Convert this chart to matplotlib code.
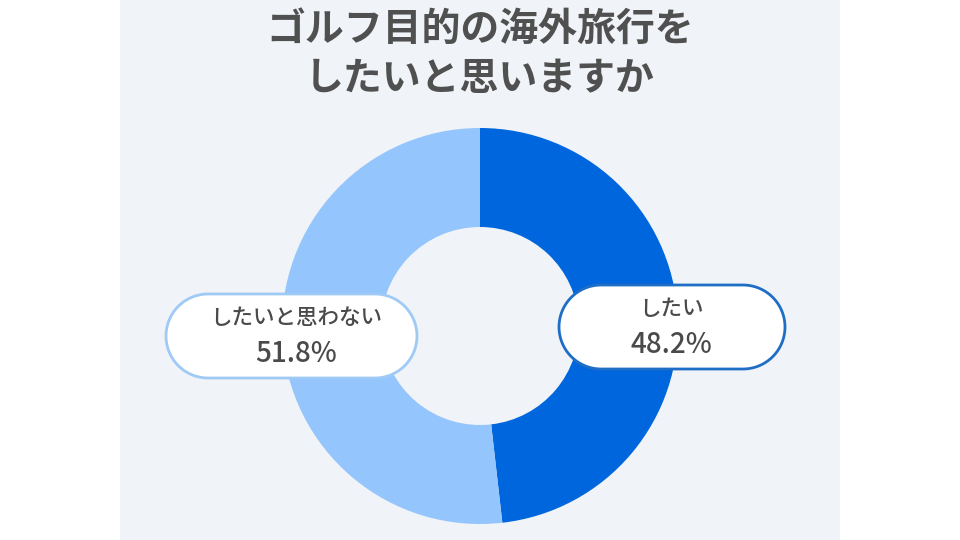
import matplotlib
matplotlib.use('Agg')
import numpy as np
import matplotlib.pyplot as plt
from matplotlib.patches import Rectangle, Polygon

plt.rcParams['font.family'] = ['Noto Sans CJK JP', 'DejaVu Sans']

title = 'ゴルフ目的の海外旅行を\nしたいと思いますか'
labels = ['したい', 'したいと思わない']
values = [48.2, 51.8]
colors = ['#0066DD', '#94C5FC']
edge_colors = ['#1F6EC6', '#9FCAF6']

text_color = '#4A4A4A'


def pill(x, y, w, h):
    # rounded "pill" outline with semicircle ends
    r = h / 2
    t = np.linspace(-np.pi / 2, np.pi / 2, 40)
    right = np.column_stack([x + w - r + r * np.cos(t), y + r + r * np.sin(t)])
    t2 = np.linspace(np.pi / 2, 3 * np.pi / 2, 40)
    left = np.column_stack([x + r + r * np.cos(t2), y + r + r * np.sin(t2)])
    return np.vstack([right, left])


fig = plt.figure(figsize=(9.6, 5.4), dpi=100)
ax = fig.add_axes([0, 0, 1, 1])

# light panel behind the chart
ax.add_patch(Rectangle((120, 0), 720, 540, facecolor='#F0F3F7', edgecolor='none', zorder=0))

# donut, clockwise from 12 o'clock
ax.pie(values, colors=colors, startangle=90, counterclock=False,
       center=(480, 214), radius=198, frame=True,
       wedgeprops=dict(width=99, edgecolor='none'))
ax.set_xlim(0, 960)
ax.set_ylim(0, 540)
ax.set_aspect('equal')
ax.axis('off')

# title
ax.text(480, 486, title, ha='center', va='center', fontsize=28, fontweight='bold',
        color='#505050', linespacing=1.35)

# label boxes: (left, bottom, width, height) in pixels, text centre x
boxes = [
    (559, 171, 226, 84, 671),   # したい
    (166, 162, 251, 84, 296),   # したいと思わない
]
for i, (bx, by, bw, bh, tx) in enumerate(boxes):
    ax.add_patch(Polygon(pill(bx, by, bw, bh), closed=True, facecolor='white',
                         edgecolor=edge_colors[i], linewidth=2, zorder=5))
    ax.text(tx, by + bh * 0.71, labels[i], ha='center', va='center',
            fontsize=15.5, fontweight='medium', color=text_color, zorder=6)
    ax.text(tx, by + bh * 0.29, '%.1f%%' % values[i], ha='center', va='center',
            fontsize=20, fontweight='medium', color=text_color, zorder=6)

fig.savefig('out.png', dpi=100, facecolor='white')
